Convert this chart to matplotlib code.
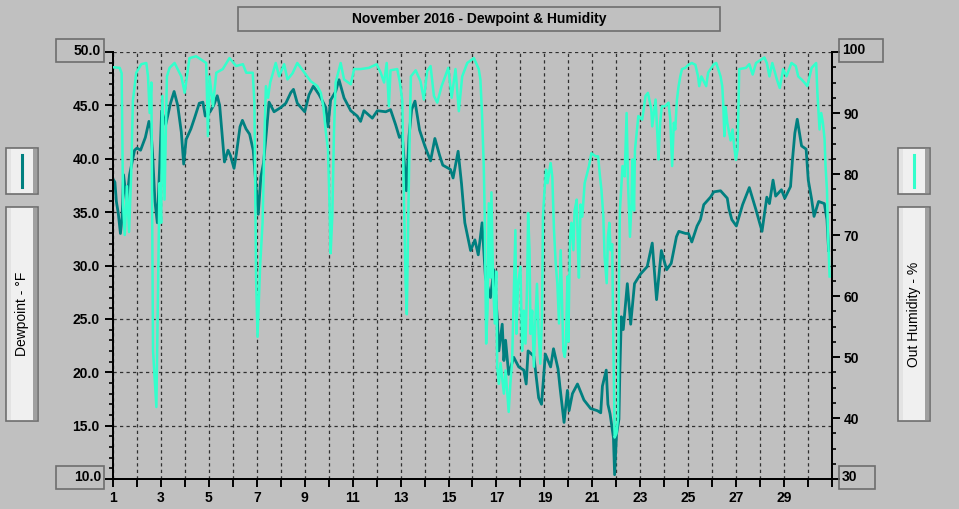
import matplotlib
matplotlib.use('agg')
import matplotlib.pyplot as plt
from matplotlib.patches import Rectangle
from matplotlib.lines import Line2D
from matplotlib.ticker import MultipleLocator

plt.rcParams['font.family'] = ['Liberation Sans', 'DejaVu Sans']

# Dewpoint (deg F), day of month
dew_day = [1.00, 1.08, 1.14, 1.22, 1.31, 1.38, 1.44, 1.57, 1.69, 1.90, 2.00, 2.15, 2.35, 2.50, 2.58,
           2.65, 2.75, 2.85, 2.95, 3.03, 3.20, 3.40, 3.55, 3.70, 3.85, 3.95, 4.05, 4.25, 4.40, 4.60,
           4.75, 4.85, 5.05, 5.20, 5.35, 5.45, 5.55, 5.65, 5.80, 5.90, 6.05, 6.15, 6.30, 6.40, 6.55,
           6.70, 6.85, 6.95, 7.06, 7.17, 7.28, 7.40, 7.51, 7.72, 8.00, 8.21, 8.42, 8.53, 8.69, 9.00,
           9.18, 9.36, 9.60, 9.88, 9.97, 10.08, 10.29, 10.43, 10.64, 10.92, 11.19, 11.33, 11.47, 11.82, 12.03,
           12.38, 12.58, 12.79, 12.95, 13.07, 13.14, 13.24, 13.35, 13.46, 13.60, 13.79, 14.01, 14.25, 14.43, 14.63,
           14.76, 15.08, 15.19, 15.40, 15.54, 15.68, 15.92, 16.10, 16.24, 16.40, 16.54, 16.75, 16.89, 17.03, 17.10,
           17.24, 17.31, 17.38, 17.51, 17.72, 17.93, 18.14, 18.24, 18.32, 18.56, 18.76, 18.88, 19.04, 19.26, 19.38,
           19.57, 19.65, 19.82, 19.96, 20.03, 20.17, 20.38, 20.65, 20.93, 21.21, 21.35, 21.42, 21.58, 21.65, 21.74,
           21.88, 21.93, 22.01, 22.11, 22.15, 22.21, 22.29, 22.46, 22.60, 22.76, 23.01, 23.29, 23.50, 23.68, 23.88,
           24.10, 24.29, 24.51, 24.61, 24.89, 25.01, 25.15, 25.37, 25.51, 25.65, 25.93, 26.07, 26.35, 26.63, 26.70,
           26.82, 27.01, 27.27, 27.55, 27.83, 28.08, 28.28, 28.39, 28.54, 28.65, 28.89, 29.03, 29.27, 29.35, 29.45,
           29.55, 29.73, 29.92, 30.01, 30.15, 30.25, 30.44, 30.68, 30.79, 30.86]
dew_val = [38.1, 37.8, 36.0, 34.9, 33.0, 34.5, 38.5, 36.0, 38.5, 40.8, 41.0, 40.8, 42.0, 43.5, 42.8,
           40.5, 36.0, 34.0, 39.5, 44.5, 43.2, 45.2, 46.3, 45.0, 42.5, 39.5, 41.8, 42.8, 43.8, 45.2,
           45.3, 44.0, 44.4, 45.0, 45.9, 45.0, 42.4, 39.7, 40.8, 40.3, 39.1, 40.5, 43.0, 43.6, 42.8,
           42.3, 40.8, 38.0, 34.8, 38.3, 39.6, 42.5, 45.3, 44.4, 44.8, 45.2, 46.2, 46.5, 45.2, 44.4,
           46.0, 46.8, 46.0, 44.8, 43.0, 45.5, 46.3, 47.4, 45.7, 44.5, 44.0, 43.5, 44.5, 43.8, 44.5,
           44.4, 44.6, 43.2, 42.0, 42.2, 40.0, 37.0, 42.1, 44.6, 45.4, 42.7, 41.2, 39.8, 41.9, 40.3,
           39.4, 39.0, 38.2, 40.7, 37.7, 34.0, 31.4, 32.4, 31.0, 34.0, 28.9, 27.0, 29.6, 25.2, 22.0,
           24.5, 21.1, 23.0, 19.8, 21.4, 20.5, 20.2, 18.9, 22.0, 21.5, 17.6, 17.0, 21.7, 20.5, 22.2,
           20.3, 18.6, 15.3, 18.3, 16.4, 18.0, 18.9, 17.4, 16.6, 16.4, 16.2, 18.7, 20.2, 17.0, 16.1,
           13.9, 10.4, 14.2, 15.6, 20.2, 25.2, 24.0, 28.3, 24.5, 28.3, 29.2, 29.9, 32.1, 26.8, 31.4,
           29.6, 30.2, 32.7, 33.2, 33.0, 33.0, 32.2, 33.7, 34.3, 35.7, 36.4, 36.9, 37.0, 36.3, 35.3,
           34.3, 33.7, 35.7, 37.3, 35.2, 33.2, 36.4, 35.8, 38.0, 36.5, 37.1, 36.3, 37.4, 39.9, 42.4,
           43.7, 41.2, 40.9, 38.0, 36.2, 34.6, 36.0, 35.8, 34.3, 31.4]

# Outside humidity (%), day of month
hum_day = [1.00, 1.28, 1.36, 1.42, 1.49, 1.58, 1.67, 1.76, 1.83, 1.97, 2.18, 2.39, 2.46, 2.53, 2.60,
           2.67, 2.81, 2.88, 2.94, 3.01, 3.06, 3.15, 3.25, 3.36, 3.57, 3.85, 3.99, 4.19, 4.47, 4.89,
           4.96, 5.03, 5.17, 5.31, 5.58, 5.86, 6.14, 6.42, 6.56, 6.83, 6.90, 6.97, 7.03, 7.14, 7.24,
           7.33, 7.38, 7.47, 7.56, 7.79, 7.93, 8.14, 8.28, 8.49, 8.69, 8.97, 9.25, 9.53, 9.67, 9.78,
           9.87, 9.97, 10.03, 10.08, 10.15, 10.22, 10.29, 10.50, 10.64, 10.92, 11.06, 11.33, 11.68, 12.00, 12.17,
           12.31, 12.42, 12.51, 12.58, 12.86, 12.97, 13.07, 13.14, 13.21, 13.26, 13.32, 13.38, 13.43, 13.63, 13.83,
           13.97, 14.11, 14.25, 14.39, 14.53, 14.71, 14.99, 15.13, 15.29, 15.43, 15.57, 15.78, 16.06, 16.26, 16.33,
           16.40, 16.47, 16.51, 16.57, 16.63, 16.68, 16.75, 16.79, 16.86, 16.93, 16.99, 17.03, 17.10, 17.17, 17.31,
           17.38, 17.51, 17.58, 17.65, 17.72, 17.79, 17.83, 17.90, 18.00, 18.07, 18.14, 18.21, 18.28, 18.32, 18.38,
           18.42, 18.49, 18.56, 18.63, 18.69, 18.76, 18.83, 18.90, 18.94, 19.00, 19.07, 19.13, 19.26, 19.33, 19.40,
           19.47, 19.54, 19.61, 19.68, 19.75, 19.79, 19.85, 19.90, 19.96, 20.00, 20.07, 20.13, 20.21, 20.26, 20.35,
           20.40, 20.44, 20.51, 20.58, 20.68, 20.86, 20.96, 21.14, 21.24, 21.32, 21.38, 21.46, 21.51, 21.60, 21.65,
           21.71, 21.76, 21.83, 21.88, 21.93, 22.01, 22.07, 22.11, 22.15, 22.26, 22.35, 22.43, 22.49, 22.57, 22.63,
           22.67, 22.74, 22.78, 22.85, 22.92, 23.08, 23.22, 23.32, 23.46, 23.50, 23.64, 23.71, 23.76, 23.83, 23.90,
           24.04, 24.18, 24.25, 24.33, 24.40, 24.46, 24.53, 24.60, 24.67, 24.74, 24.88, 25.01, 25.15, 25.30, 25.41,
           25.46, 25.55, 25.75, 25.83, 26.07, 26.17, 26.35, 26.42, 26.46, 26.51, 26.56, 26.63, 26.77, 26.85, 26.92,
           26.99, 27.06, 27.13, 27.41, 27.55, 27.69, 27.83, 28.18, 28.28, 28.39, 28.51, 28.70, 28.82, 28.96, 29.10,
           29.31, 29.49, 29.59, 29.73, 29.87, 29.97, 30.15, 30.34, 30.39, 30.48, 30.55, 30.62, 30.69, 30.73, 30.79,
           30.83, 30.90]
hum_val = [97.5, 97.4, 96.5, 75.0, 70.0, 78.0, 70.5, 80.0, 92.0, 96.6, 98.0, 98.2, 96.0, 90.0, 95.0,
           51.0, 41.8, 62.0, 78.5, 72.0, 92.8, 75.8, 96.0, 97.4, 98.2, 96.0, 93.3, 99.0, 99.3, 98.2,
           86.2, 96.0, 91.1, 96.6, 97.2, 99.0, 97.7, 98.0, 96.6, 96.6, 91.7, 63.0, 53.3, 65.0, 72.0,
           87.8, 94.4, 92.5, 95.0, 98.2, 96.0, 98.0, 95.5, 96.5, 98.2, 96.7, 95.2, 94.4, 93.3, 91.0,
           87.3, 84.0, 75.8, 67.0, 73.0, 86.8, 95.0, 98.2, 95.5, 94.7, 97.2, 97.2, 97.4, 98.0, 96.6,
           95.0, 98.2, 91.1, 97.0, 97.2, 95.0, 92.0, 75.8, 62.0, 57.0, 73.0, 86.7, 96.0, 97.0, 95.2,
           92.2, 96.9, 97.7, 92.8, 91.7, 94.4, 97.4, 92.5, 97.2, 90.3, 96.0, 98.2, 99.0, 97.2, 95.5,
           89.5, 81.3, 73.0, 52.2, 58.0, 75.2, 63.0, 77.0, 62.0, 55.5, 64.0, 48.4, 45.6, 49.0, 44.0,
           47.8, 41.0, 45.6, 49.0, 60.0, 70.8, 53.8, 62.0, 64.8, 51.0, 57.6, 52.2, 62.0, 73.6, 67.5,
           53.8, 57.6, 48.4, 56.6, 62.0, 53.8, 48.9, 56.6, 73.0, 77.0, 80.7, 78.5, 81.8, 79.5, 70.8,
           65.4, 62.0, 55.5, 67.5, 56.6, 51.0, 50.0, 52.0, 63.2, 52.5, 69.7, 72.0, 67.5, 74.0, 75.8,
           67.5, 63.0, 75.0, 73.0, 78.5, 81.3, 83.4, 82.9, 82.9, 79.6, 77.4, 73.0, 66.5, 62.1, 69.7,
           72.0, 67.5, 68.5, 51.0, 36.8, 37.5, 40.0, 62.0, 74.0, 81.3, 79.6, 90.0, 78.5, 69.7, 74.7,
           82.4, 74.0, 84.0, 86.7, 89.5, 88.9, 92.8, 93.3, 90.6, 87.8, 92.2, 86.7, 82.4, 88.4, 91.1,
           91.1, 91.7, 89.0, 81.3, 88.4, 87.3, 92.2, 94.4, 96.0, 97.2, 97.4, 97.9, 98.2, 97.9, 96.0,
           94.4, 96.0, 94.4, 96.6, 98.0, 98.2, 96.0, 94.4, 91.7, 86.2, 91.0, 88.4, 85.5, 87.3, 84.5,
           82.3, 84.0, 97.2, 97.4, 98.0, 96.3, 98.2, 99.1, 98.2, 96.0, 98.2, 95.5, 94.1, 97.2, 96.0,
           98.2, 97.7, 96.0, 95.5, 94.9, 94.4, 97.4, 98.2, 93.3, 87.3, 90.0, 88.4, 85.7, 81.3, 77.4,
           70.3, 63.2]

day_ticks = list(range(1, 32))
day_labels = [str(d) if d % 2 == 1 and d < 31 else '' for d in day_ticks]
dew_ticks = [10, 15, 20, 25, 30, 35, 40, 45, 50]
dew_labels = ['', '15.0', '20.0', '25.0', '30.0', '35.0', '40.0', '45.0', '']
hum_ticks = [30, 40, 50, 60, 70, 80, 90, 100]
hum_labels = ['', '40', '50', '60', '70', '80', '90', '']

DEW_COLOR = '#008080'
HUM_COLOR = '#33FFCC'
BG = '#C0C0C0'
FS = 10

W, H = 959, 509
fig = plt.figure(figsize=(W / 100, H / 100), dpi=100, facecolor=BG)
ax = fig.add_axes([113 / W, (H - 479) / H, (832 - 113) / W, (479 - 52) / H])
ax.set_facecolor(BG)
ax2 = ax.twinx()

ax.plot(dew_day, dew_val, color=DEW_COLOR, lw=2.0, zorder=3)
ax2.plot(hum_day, hum_val, color=HUM_COLOR, lw=1.8, zorder=3)

ax.set_xlim(1, 31)
ax.set_ylim(10, 50)
ax2.set_ylim(30, 100)

ax.set_xticks(day_ticks)
ax.set_xticklabels(day_labels)
ax.set_yticks(dew_ticks)
ax.set_yticklabels(dew_labels)
ax.yaxis.set_minor_locator(MultipleLocator(1))
ax2.set_yticks(hum_ticks)
ax2.set_yticklabels(hum_labels)
ax2.yaxis.set_minor_locator(MultipleLocator(2.5))

ax.grid(True, which='major', color='#303030', lw=0.9, linestyle=(0, (2.6, 2.6)), zorder=1)
ax.set_axisbelow(True)

for a in (ax, ax2):
    for s in a.spines.values():
        s.set_linewidth(1.4)
        s.set_color('black')
    a.spines['top'].set_visible(False)

ax.tick_params(axis='both', which='major', length=5.5, width=1.4, color='black')
ax.tick_params(axis='y', which='minor', length=3, width=1.2, color='black')
ax.tick_params(axis='y', which='major', pad=4)
ax.tick_params(axis='x', which='major', pad=3.5)
ax2.tick_params(axis='y', which='major', length=5.5, width=1.4, pad=3)
ax2.tick_params(axis='y', which='minor', length=3, width=1.2)
for lab in ax.get_xticklabels() + ax.get_yticklabels() + ax2.get_yticklabels():
    lab.set_fontweight('bold')
    lab.set_fontsize(FS)


def px_rect(x0, y0, x1, y1, **kw):
    fig.add_artist(Rectangle((x0 / W, 1 - y1 / H), (x1 - x0) / W, (y1 - y0) / H,
                             transform=fig.transFigure, **kw))


def px_text(x, y, s, **kw):
    fig.text(x / W, 1 - y / H, s, **kw)


def legend_box(x0, y0, x1, y1):
    px_rect(x0, y0, x1, y1, facecolor='#F0F0F0', edgecolor='none')
    px_rect(x0 + 1, y0 + 1, x0 + 5, y1 - 1, facecolor='#E3E3E3', edgecolor='none')
    px_rect(x1 - 5, y0 + 1, x1 - 1, y1 - 1, facecolor='#A0A0A0', edgecolor='none')
    px_rect(x0, y0, x1, y1, facecolor='none', edgecolor='#6E6E6E', lw=1.2)


# title box
px_rect(238, 7, 720, 31, facecolor='none', edgecolor='#6E6E6E', lw=1.2)
px_text(479, 18.5, 'November 2016 - Dewpoint & Humidity', ha='center', va='center',
        fontsize=FS, fontweight='bold')

# end value boxes
px_rect(56, 39, 104, 62, facecolor='none', edgecolor='#6E6E6E', lw=1.2)
px_text(101, 51, '50.0', ha='right', va='center', fontsize=FS, fontweight='bold')
px_rect(56, 466, 104, 489, facecolor='none', edgecolor='#6E6E6E', lw=1.2)
px_text(101, 477, '10.0', ha='right', va='center', fontsize=FS, fontweight='bold')
px_rect(839, 39, 883, 62, facecolor='none', edgecolor='#6E6E6E', lw=1.2)
px_text(842, 50, '100', ha='left', va='center', fontsize=FS, fontweight='bold')
px_rect(839, 466, 875, 489, facecolor='none', edgecolor='#6E6E6E', lw=1.2)
px_text(842, 477, '30', ha='left', va='center', fontsize=FS, fontweight='bold')

# series keys and axis titles
legend_box(6, 148, 38, 194)
fig.add_artist(Line2D([22 / W, 22 / W], [1 - 155 / H, 1 - 187 / H], color=DEW_COLOR, lw=2.2,
                      transform=fig.transFigure))
legend_box(6, 207, 38, 421)
px_text(22, 314, 'Dewpoint - \u00b0F', rotation=90, ha='center', va='center', fontsize=10)

legend_box(898, 148, 930, 194)
fig.add_artist(Line2D([914 / W, 914 / W], [1 - 155 / H, 1 - 187 / H], color=HUM_COLOR, lw=2.2,
                      transform=fig.transFigure))
legend_box(898, 207, 930, 421)
px_text(914, 314, 'Out Humidity - %', rotation=90, ha='center', va='center', fontsize=10)

fig.savefig('out.png', dpi=100, facecolor=BG)
